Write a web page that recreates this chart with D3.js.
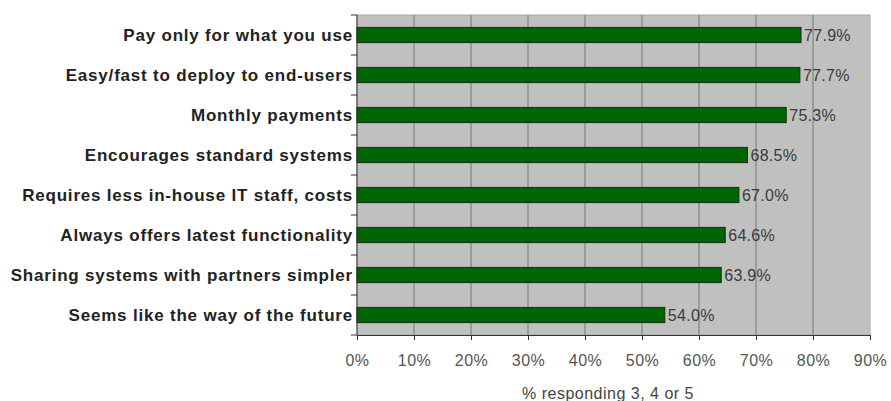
<!DOCTYPE html>
<html lang="en">
<head>
<meta charset="UTF-8" />
<title>Reasons</title>
<script src="https://d3js.org/d3.v7.min.js"></script>
<style>
  body { margin: 0; background: #fff; }
  svg { font-family: "Liberation Sans", Arial, sans-serif; }
</style>
</head>
<body>
<script>
var categories = [
  "Pay only for what you use",
  "Easy/fast to deploy to end-users",
  "Monthly payments",
  "Encourages standard systems",
  "Requires less in-house IT staff, costs",
  "Always offers latest functionality",
  "Sharing systems with partners simpler",
  "Seems like the way of the future"
];
var values = [77.9, 77.7, 75.3, 68.5, 67.0, 64.6, 63.9, 54.0];
var ticks = [0, 10, 20, 30, 40, 50, 60, 70, 80, 90];
var axisTitle = "% responding 3, 4 or 5";

var width = 891, height = 401;
var margin = {top: 15, right: 21, bottom: 66, left: 357};

var svg = d3.select("body").append("svg")
  .attr("width", width)
  .attr("height", height);

var x = d3.scaleLinear()
  .domain([0, 90])
  .range([margin.left, width - margin.right]);

var y = d3.scaleBand()
  .domain(categories)
  .range([margin.top, height - margin.bottom])
  .paddingInner(0.62)
  .paddingOuter(0.31);

// plot background
svg.append("rect")
  .attr("x", x(0)).attr("y", margin.top)
  .attr("width", x(90) - x(0))
  .attr("height", height - margin.bottom - margin.top)
  .attr("fill", "#c0c0c0")
  .attr("stroke", "#a8a8a8");

// vertical gridlines
svg.append("g").selectAll("line")
  .data(ticks.slice(1, -1))
  .enter().append("line")
  .attr("x1", function(d) { return x(d); })
  .attr("x2", function(d) { return x(d); })
  .attr("y1", margin.top)
  .attr("y2", height - margin.bottom)
  .attr("stroke", "#777")
  .attr("stroke-width", 1);

// bars
svg.append("g").selectAll("rect")
  .data(values)
  .enter().append("rect")
  .attr("x", x(0))
  .attr("y", function(d, i) { return y(categories[i]); })
  .attr("width", function(d) { return x(d) - x(0); })
  .attr("height", y.bandwidth())
  .attr("fill", "#006400")
  .attr("stroke", "#1a2a1a")
  .attr("stroke-width", 1);

// value labels
svg.append("g").selectAll("text")
  .data(values)
  .enter().append("text")
  .attr("x", function(d) { return x(d) + 3; })
  .attr("y", function(d, i) { return y(categories[i]) + y.bandwidth() / 2; })
  .attr("dy", "0.35em")
  .attr("font-size", 16)
  .attr("letter-spacing", 0.3)
  .attr("fill", "#3a3a3a")
  .text(function(d) { return d.toFixed(1) + "%"; });

// x axis
var xAxis = svg.append("g")
  .attr("transform", "translate(0," + (height - margin.bottom) + ")")
  .call(d3.axisBottom(x).tickValues(ticks)
    .tickFormat(function(d) { return d + "%"; })
    .tickSizeInner(5).tickSizeOuter(0).tickPadding(15));
xAxis.select(".domain").attr("stroke", "#333");
xAxis.selectAll(".tick line").attr("stroke", "#333");
xAxis.selectAll("text")
  .attr("font-size", 16)
  .attr("letter-spacing", 0.5)
  .attr("fill", "#555");

// y axis: ticks at band boundaries
var step = y.step();
var yBounds = d3.range(categories.length + 1).map(function(i) { return margin.top + i * step; });
var yAxis = svg.append("g");
yAxis.append("line")
  .attr("x1", x(0)).attr("x2", x(0))
  .attr("y1", margin.top).attr("y2", height - margin.bottom)
  .attr("stroke", "#333");
yAxis.selectAll(".tk").data(yBounds).enter().append("line")
  .attr("class", "tk")
  .attr("x1", x(0) - 6).attr("x2", x(0))
  .attr("y1", function(d) { return d; })
  .attr("y2", function(d) { return d; })
  .attr("stroke", "#333");
yAxis.selectAll("text").data(categories).enter().append("text")
  .attr("x", x(0) - 4)
  .attr("y", function(d) { return y(d) + y.bandwidth() / 2; })
  .attr("dy", "0.35em")
  .attr("text-anchor", "end")
  .attr("font-size", 17)
  .attr("letter-spacing", 0.8)
  .attr("font-weight", "bold")
  .attr("fill", "#222")
  .text(function(d) { return d; });

// axis title
svg.append("text")
  .attr("x", 608)
  .attr("y", 393)
  .attr("dy", "0.35em")
  .attr("text-anchor", "middle")
  .attr("font-size", 16)
  .attr("letter-spacing", 0.5)
  .attr("fill", "#444")
  .text(axisTitle);
</script>
</body>
</html>
